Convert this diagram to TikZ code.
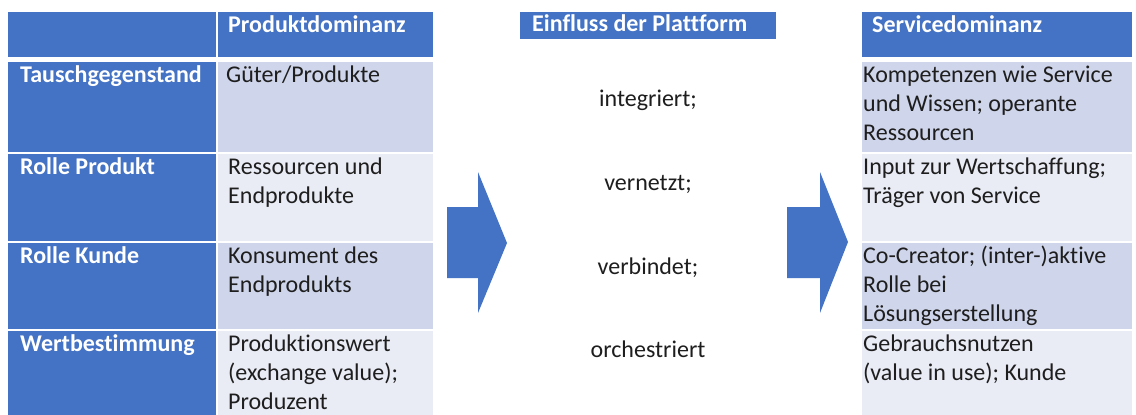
\documentclass[tikz,border=0pt]{standalone}
\usepackage{fontspec}
\setmainfont{Carlito}[Ligatures=NoCommon]
\usetikzlibrary{calc}
\definecolor{hdrblue}{HTML}{4472C4}
\definecolor{rowdark}{HTML}{CFD5EA}
\definecolor{rowlight}{HTML}{E9EBF5}
\definecolor{txtcol}{HTML}{1E1E1E}
\tikzset{
  cell/.style={rectangle, inner sep=0, outer sep=0, anchor=north west, draw=none},
  txt/.style={inner sep=0, anchor=north west, align=left, text=txtcol,
    font=\fontsize{24}{29}\selectfont},
  wtxt/.style={txt, text=white, font=\fontsize{24}{29}\selectfont\bfseries},
  mid/.style={inner sep=0, anchor=base, text=txtcol, font=\fontsize{24}{29}\selectfont},
  bigarrow/.style={fill=hdrblue, draw=none}
}
\begin{document}
\begin{tikzpicture}[x=1pt,y=-1pt]
\useasboundingbox[fill=white] (0,0) rectangle (1136,415);
% ---------- left table ----------
\node[cell, fill=hdrblue, minimum width=208, minimum height=45] (h0) at (8,12) {};
\node[cell, fill=hdrblue, minimum width=215, minimum height=45] (h1) at (218,12) {};
\node[cell, fill=hdrblue, minimum width=208, minimum height=90] (a1) at (8,62) {};
\node[cell, fill=rowdark, minimum width=215, minimum height=90] (b1) at (218,62) {};
\node[cell, fill=hdrblue, minimum width=208, minimum height=87] (a2) at (8,154) {};
\node[cell, fill=rowlight, minimum width=215, minimum height=87] (b2) at (218,154) {};
\node[cell, fill=hdrblue, minimum width=208, minimum height=86] (a3) at (8,243) {};
\node[cell, fill=rowdark, minimum width=215, minimum height=86] (b3) at (218,243) {};
\node[cell, fill=hdrblue, minimum width=208, minimum height=84] (a4) at (8,331) {};
\node[cell, fill=rowlight, minimum width=215, minimum height=84] (b4) at (218,331) {};
% texts
\node[wtxt] (th1) at ($(h1.north west)+(10,0)$) {\strut Produktdominanz};
\node[wtxt] (ta1) at ($(a1.north west)+(12,0)$) {\strut Tauschgegenstand};
\node[wtxt] (ta2) at ($(a2.north west)+(12,0)$) {\strut Rolle Produkt};
\node[wtxt] (ta3) at ($(a3.north west)+(12,0)$) {\strut Rolle Kunde};
\node[wtxt] (ta4) at ($(a4.north west)+(12,0)$) {\strut Wertbestimmung};
\node[txt] (tb1) at ($(b1.north west)+(8,0)$) {\strut Güter/Produkte};
\node[txt] (tb2) at ($(b2.north west)+(10,0)$) {\strut Ressourcen und\\Endprodukte};
\node[txt] (tb3) at ($(b3.north west)+(10,0)$) {\strut Konsument des\\Endprodukts};
\node[txt] (tb4) at ($(b4.north west)+(10,0)$) {\strut Produktionswert\\(exchange value);\\Produzent};
% ---------- middle ----------
\node[cell, fill=hdrblue, minimum width=256, minimum height=27] (mh) at (520,12) {};
\node[wtxt] (tmh) at ($(mh.north west)+(12,-1)$) {\strut Einfluss der Plattform};
\node[mid] (m1) at (648,106) {integriert;};
\node[mid] (m2) at (648,190) {vernetzt;};
\node[mid] (m3) at (648,274) {verbindet;};
\node[mid] (m4) at (648,357) {orchestriert};
\fill[bigarrow] (447,207) -- (478,207) -- (478,172) -- (507,243) -- (478,313) -- (478,278) -- (447,278) -- cycle;
\fill[bigarrow] (787,207) -- (820,207) -- (820,172) -- (848,242) -- (820,313) -- (820,278) -- (787,278) -- cycle;
% ---------- right table ----------
\node[cell, fill=hdrblue, minimum width=270, minimum height=45] (r0) at (862,12) {};
\node[cell, fill=rowdark, minimum width=270, minimum height=90] (r1) at (862,62) {};
\node[cell, fill=rowlight, minimum width=270, minimum height=87] (r2) at (862,154) {};
\node[cell, fill=rowdark, minimum width=270, minimum height=86] (r3) at (862,243) {};
\node[cell, fill=rowlight, minimum width=270, minimum height=84] (r4) at (862,331) {};
\node[wtxt] (tr0) at ($(r0.north west)+(10,0)$) {\strut Servicedominanz};
\node[txt] (tr1) at ($(r1.north west)+(1,0)$) {\strut Kompetenzen wie Service\\und Wissen; operante\\Ressourcen};
\node[txt] (tr2) at ($(r2.north west)+(1,0)$) {\strut Input zur Wertschaffung;\\Träger von Service};
\node[txt] (tr3) at ($(r3.north west)+(1,0)$) {\strut Co-Creator; (inter-)aktive\\Rolle bei\\Lösungserstellung};
\node[txt] (tr4) at ($(r4.north west)+(1,0)$) {\strut Gebrauchsnutzen\\(value in use); Kunde};
\end{tikzpicture}
\end{document}
